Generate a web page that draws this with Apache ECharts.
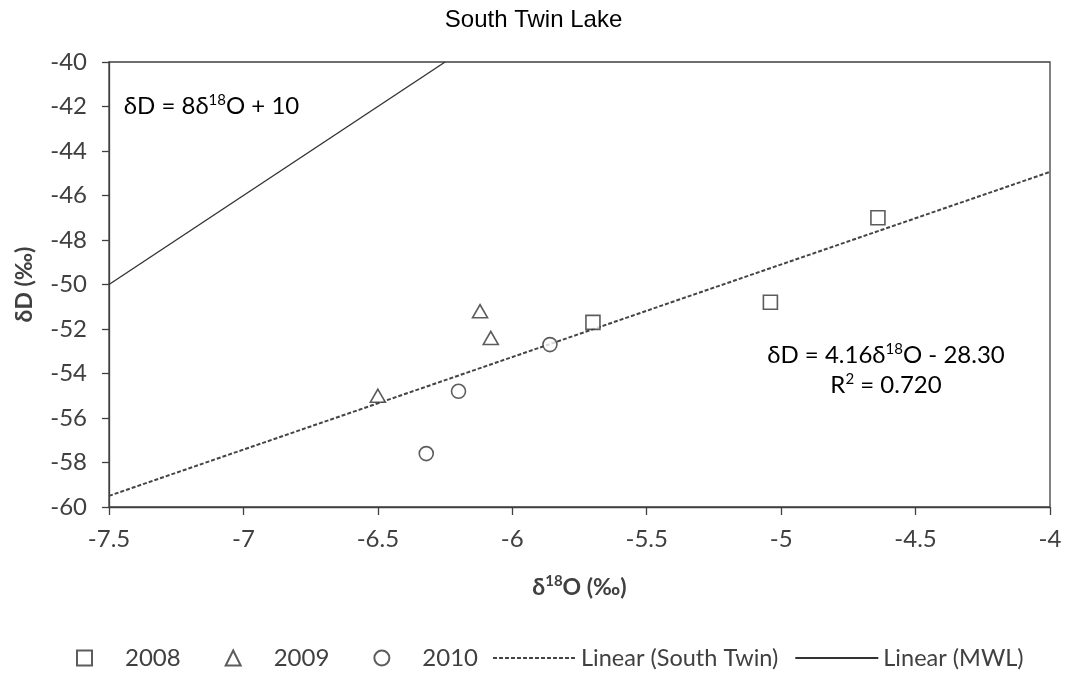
<!DOCTYPE html>
<html>
<head>
<meta charset="utf-8">
<script src="https://cdn.jsdelivr.net/npm/echarts@6/dist/echarts.min.js"></script>
<style>
  html, body { margin: 0; padding: 0; background: #ffffff; }
  #chart { width: 1067px; height: 674px; }
</style>
</head>
<body>
<div id="chart"></div>
<script>
// Isotope samples, South Twin Lake (δ18O ‰, δD ‰)
const d18O_2008 = [-5.70, -5.04, -4.64];
const dD_2008   = [-51.7, -50.8, -47.0];
const d18O_2009 = [-6.50, -6.12, -6.08];
const dD_2009   = [-55.0, -51.2, -52.4];
const d18O_2010 = [-6.32, -6.20, -5.86];
const dD_2010   = [-57.6, -54.8, -52.7];

// Linear fit through the lake samples
const fitSlope = 4.16;
const fitIntercept = -28.30;
const fitR2 = 0.720;
const fitRangeX = [-7.5, -4];

// Meteoric water line
const mwlSlope = 8;
const mwlIntercept = 10;
const mwlRangeX = [-7.5, -6.25];

// Axis ranges
const xMin = -7.5, xMax = -4, xStep = 0.5;
const yMin = -60, yMax = -40, yStep = 2;

const FONT = 'Lato, "Noto Sans", "DejaVu Sans", sans-serif';
const INK = '#404040';
const MARK = '#333333';

const pairs = (xs, ys) => xs.map((x, i) => [x, ys[i]]);
const lineFrom = (slope, intercept, range) => range.map(x => [x, slope * x + intercept]);

const chart = echarts.init(document.getElementById('chart'), null, { renderer: 'canvas' });

const hollow = { color: '#ffffff', borderColor: MARK, borderWidth: 1.6 };

chart.setOption({
  backgroundColor: '#ffffff',
  animation: false,
  title: {
    text: 'South Twin Lake',
    left: 'center',
    top: 3,
    textStyle: { fontFamily: '"Liberation Sans", Arial, sans-serif', fontSize: 24, fontWeight: 'normal', color: '#000' }
  },
  grid: {
    left: 109, right: 17, top: 62, bottom: 167,
    show: true, borderColor: INK, borderWidth: 1.3, backgroundColor: 'transparent'
  },
  xAxis: {
    type: 'value', min: xMin, max: xMax, interval: xStep,
    axisLine: { show: true, onZero: false, lineStyle: { color: INK, width: 1.3 } },
    axisTick: { show: true, inside: false, length: 8, lineStyle: { color: INK, width: 1.3 } },
    splitLine: { show: false },
    axisLabel: { margin: 20, fontFamily: FONT, fontSize: 24, color: INK },
    name: '{b|δ}{s|18}{b|O (‰)}',
    nameLocation: 'middle',
    nameGap: 67,
    nameTextStyle: {
      rich: {
        b: { fontFamily: FONT, fontSize: 23, fontWeight: 'bold', color: INK, lineHeight: 28 },
        s: { fontFamily: FONT, fontSize: 15, fontWeight: 'bold', color: INK, verticalAlign: 'top', lineHeight: 28 }
      }
    }
  },
  yAxis: {
    type: 'value', min: yMin, max: yMax, interval: yStep,
    axisLine: { show: true, onZero: false, lineStyle: { color: INK, width: 1.3 } },
    axisTick: { show: true, inside: false, length: 7, lineStyle: { color: INK, width: 1.3 } },
    splitLine: { show: false },
    axisLabel: { margin: 22, fontFamily: FONT, fontSize: 24, color: INK },
    name: 'δD (‰)',
    nameLocation: 'middle',
    nameGap: 73,
    nameTextStyle: { fontFamily: FONT, fontSize: 23, fontWeight: 'bold', color: INK }
  },
  legend: [
    {
      data: ['2008', '2009', '2010'],
      left: 71, top: 641,
      orient: 'horizontal',
      itemWidth: 15, itemHeight: 15, itemGap: 44,
      textStyle: { fontFamily: FONT, fontSize: 24, color: INK, padding: [0, 0, 0, 28] }
    },
    {
      data: ['Linear (South Twin)', 'Linear (MWL)'],
      left: 487, top: 641,
      orient: 'horizontal',
      itemWidth: 83, itemHeight: 14, itemGap: 16,
      itemStyle: { color: 'rgba(0,0,0,0)', borderWidth: 0 },
      textStyle: { fontFamily: FONT, fontSize: 23.5, color: INK }
    }
  ],
  series: [
    {
      name: 'Linear (South Twin)', type: 'line', z: 2,
      data: lineFrom(fitSlope, fitIntercept, fitRangeX),
      symbol: 'none', silent: true,
      itemStyle: { color: 'rgba(0,0,0,0)' },
      lineStyle: { color: '#444', width: 2, type: [4, 2] }
    },
    {
      name: 'Linear (MWL)', type: 'line', z: 2,
      data: lineFrom(mwlSlope, mwlIntercept, mwlRangeX),
      symbol: 'none', silent: true,
      itemStyle: { color: 'rgba(0,0,0,0)' },
      lineStyle: { color: '#333', width: 1.4, type: 'solid' }
    },
    {
      name: '2008', type: 'scatter', z: 3,
      data: pairs(d18O_2008, dD_2008),
      symbol: 'rect', symbolSize: 14,
      itemStyle: hollow
    },
    {
      name: '2009', type: 'scatter', z: 3,
      data: pairs(d18O_2009, dD_2009),
      symbol: 'triangle', symbolSize: [15, 13],
      itemStyle: hollow
    },
    {
      name: '2010', type: 'scatter', z: 3,
      data: pairs(d18O_2010, dD_2010),
      symbol: 'circle', symbolSize: 14,
      itemStyle: hollow
    }
  ]
});

// Equation annotations, anchored in data space
const richText = {
  a: { fontFamily: FONT, fontSize: 24, color: INK, lineHeight: 28 },
  s: { fontFamily: FONT, fontSize: 15, color: INK, verticalAlign: 'top', lineHeight: 28 }
};
const mwlPos = chart.convertToPixel({ gridIndex: 0 }, [-7.445, -42.0]);
const fitPos = chart.convertToPixel({ gridIndex: 0 }, [-4.61, -53.2]);
const r2Pos  = chart.convertToPixel({ gridIndex: 0 }, [-4.61, -54.55]);

const fitSign = fitIntercept < 0 ? '-' : '+';
chart.setOption({
  graphic: [
    {
      type: 'text', x: mwlPos[0], y: mwlPos[1], z: 10,
      style: {
        text: '{a|δD = ' + mwlSlope + 'δ}{s|18}{a|O + ' + mwlIntercept + '}',
        rich: richText, align: 'left', verticalAlign: 'middle'
      }
    },
    {
      type: 'text', x: fitPos[0], y: fitPos[1], z: 10,
      style: {
        text: '{a|δD = ' + fitSlope.toFixed(2) + 'δ}{s|18}{a|O ' + fitSign + ' ' + Math.abs(fitIntercept).toFixed(2) + '}',
        rich: richText, align: 'center', verticalAlign: 'middle'
      }
    },
    {
      type: 'text', x: r2Pos[0], y: r2Pos[1], z: 10,
      style: {
        text: '{a|R}{s|2}{a| = ' + fitR2.toFixed(3) + '}',
        rich: richText, align: 'center', verticalAlign: 'middle'
      }
    }
  ]
});
</script>
</body>
</html>
